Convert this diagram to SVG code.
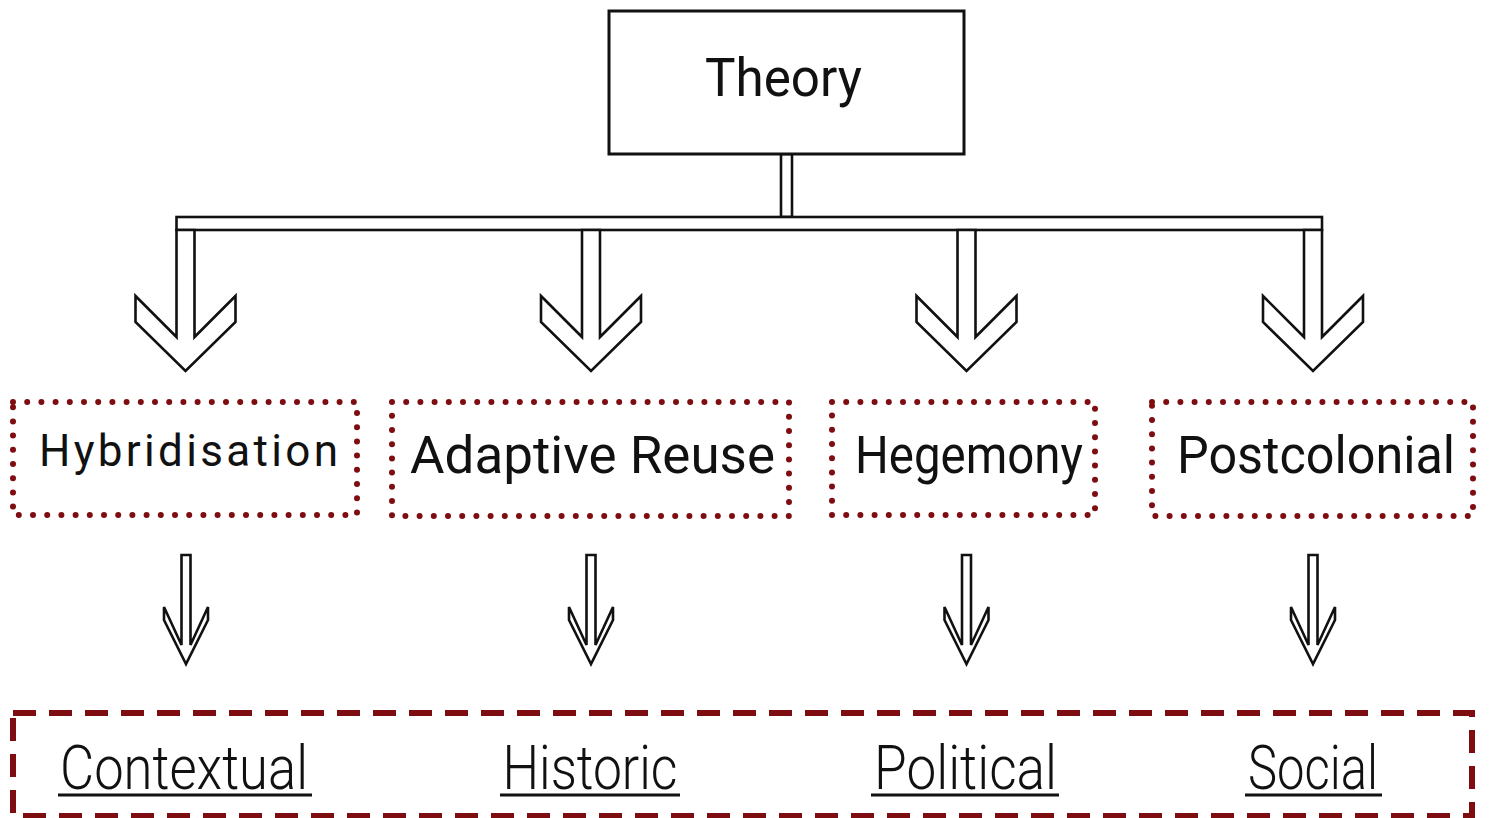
<svg xmlns="http://www.w3.org/2000/svg" width="1489" height="818" viewBox="0 0 1489 818">
<style>
.t{font-family:Roboto,"Liberation Sans",sans-serif;fill:#111;font-weight:400}
.lt{font-weight:300}
.box{fill:#fff;stroke:#111;stroke-width:3}
.con{fill:#fff;stroke:#111;stroke-width:2.6;stroke-linejoin:miter}
.dot{fill:none;stroke:#7d0d10;stroke-width:6;stroke-dasharray:0 14.2;stroke-linecap:round}
.dash{fill:none;stroke:#7d0d10;stroke-width:6;stroke-dasharray:23 13}
.ul{stroke:#111;stroke-width:3}
</style>
<rect width="1489" height="818" fill="#fff"/>
<g id="connectors">
  <rect class="con" x="781" y="154" width="11" height="63"/>
  <rect class="con" x="176.5" y="217" width="1145.5" height="13"/>
  <polygon class="con" points="176.5,230 176.5,337 135.5,296 135.5,322 185.5,371 235.5,322 235.5,296 194.5,337 194.5,230"/>
  <polygon class="con" points="582,230 582,337 541,296 541,322 591,371 641,322 641,296 600,337 600,230"/>
  <polygon class="con" points="957.5,230 957.5,337 916.5,296 916.5,322 966.5,371 1016.5,322 1016.5,296 975.5,337 975.5,230"/>
  <polygon class="con" points="1304,230 1304,337 1263,296 1263,322 1313,371 1363,322 1363,296 1322,337 1322,230"/>
  <polygon class="con" points="181.5,555 190.5,555 190.5,645 208,607 208,620 186,664 164,620 164,607 181.5,645"/>
  <polygon class="con" points="586.5,555 595.5,555 595.5,645 613,607 613,620 591,664 569,620 569,607 586.5,645"/>
  <polygon class="con" points="962,555 971,555 971,645 988.5,607 988.5,620 966.5,664 944.5,620 944.5,607 962,645"/>
  <polygon class="con" points="1308.5,555 1317.5,555 1317.5,645 1335,607 1335,620 1313,664 1291,620 1291,607 1308.5,645"/>
</g>
<g id="theory">
  <rect class="box" x="609" y="11" width="355" height="143"/>
  <text class="t" x="783.5" y="96" font-size="54" text-anchor="middle" textLength="157" lengthAdjust="spacingAndGlyphs">Theory</text>
</g>
<g id="hybridisation">
  <rect class="dot" x="13" y="402" width="344" height="113"/>
  <text class="t" x="188.5" y="466" font-size="44" text-anchor="middle" textLength="299" lengthAdjust="spacing">Hybridisation</text>
</g>
<g id="adaptive-reuse">
  <rect class="dot" x="392" y="402" width="397" height="114"/>
  <text class="t" x="592.5" y="473" font-size="51" text-anchor="middle" textLength="365" lengthAdjust="spacingAndGlyphs">Adaptive Reuse</text>
</g>
<g id="hegemony">
  <rect class="dot" x="832" y="402" width="263" height="113"/>
  <text class="t" x="969" y="473" font-size="51" text-anchor="middle" textLength="228" lengthAdjust="spacingAndGlyphs">Hegemony</text>
</g>
<g id="postcolonial">
  <rect class="dot" x="1152" y="402" width="321" height="114"/>
  <text class="t" x="1316" y="473" font-size="51" text-anchor="middle" textLength="278" lengthAdjust="spacingAndGlyphs">Postcolonial</text>
</g>
<g id="outcomes">
  <rect class="dash" x="13" y="713" width="1459" height="103"/>
  <text class="t lt" x="184" y="789" font-size="61" text-anchor="middle" textLength="248" lengthAdjust="spacingAndGlyphs">Contextual</text>
  <line class="ul" x1="58" y1="795" x2="312" y2="795"/>
  <text class="t lt" x="590" y="789" font-size="61" text-anchor="middle" textLength="175" lengthAdjust="spacingAndGlyphs">Historic</text>
  <line class="ul" x1="500" y1="795" x2="680" y2="795"/>
  <text class="t lt" x="965.5" y="789" font-size="61" text-anchor="middle" textLength="183" lengthAdjust="spacingAndGlyphs">Political</text>
  <line class="ul" x1="871" y1="795" x2="1059" y2="795"/>
  <text class="t lt" x="1313" y="789" font-size="61" text-anchor="middle" textLength="130" lengthAdjust="spacingAndGlyphs">Social</text>
  <line class="ul" x1="1245" y1="795" x2="1382" y2="795"/>
</g>
</svg>
